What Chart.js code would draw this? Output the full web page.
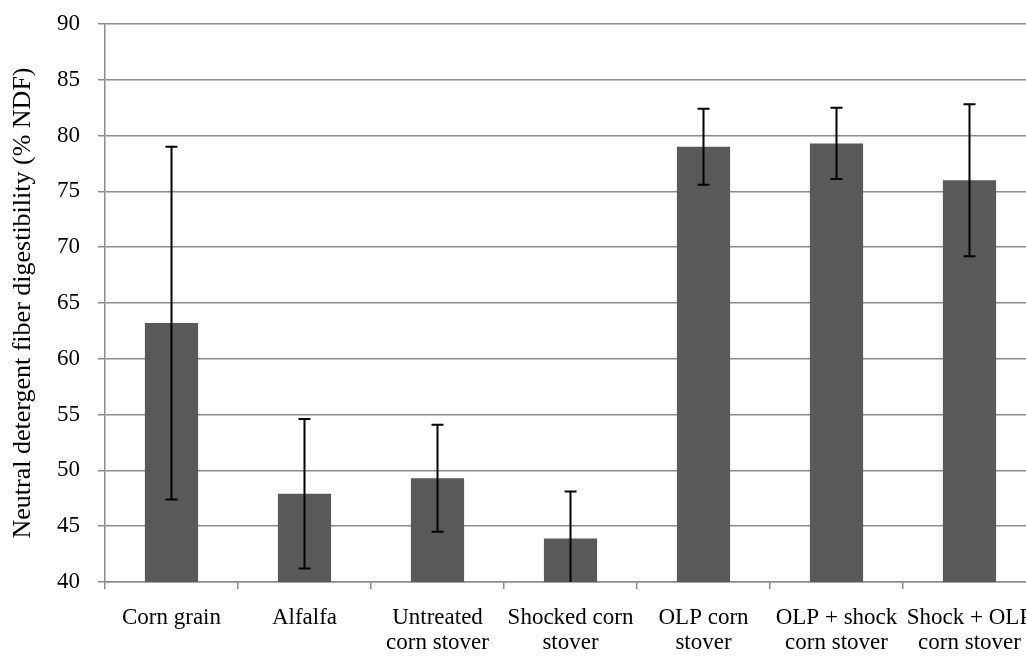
<!DOCTYPE html>
<html>
<head>
<meta charset="utf-8">
<script src="https://cdn.jsdelivr.net/npm/chart.js@4.4.1/dist/chart.umd.min.js"></script>
<style>
  html, body { margin: 0; padding: 0; background: #fff; overflow: hidden; }
  #wrap { width: 1100px; height: 658px; }
</style>
</head>
<body>
<div id="wrap"><canvas id="ndfChart" width="1100" height="658"></canvas></div>
<script>
// NDF digestibility per feed, mean and error bar half-width
const categories = [
  'Corn grain',
  'Alfalfa',
  ['Untreated', 'corn stover'],
  ['Shocked corn', 'stover'],
  ['OLP corn', 'stover'],
  ['OLP + shock', 'corn stover'],
  ['Shock + OLP', 'corn stover']
];
const ndfMeans = [63.2, 47.9, 49.3, 43.9, 79.0, 79.3, 76.0];
const ndfErrors = [15.8, 6.7, 4.8, 4.2, 3.4, 3.2, 6.8];

const axisGray = '#8c8c8c';
const serif = '"Liberation Serif", "Times New Roman", serif';

// error bars drawn on top of the bars, using the y scale
const errorBars = {
  id: 'errorBars',
  afterDatasetsDraw(chart) {
    const { ctx, chartArea, scales } = chart;
    const meta = chart.getDatasetMeta(0);
    ctx.save();
    ctx.beginPath();
    ctx.rect(chartArea.left, chartArea.top, chartArea.right - chartArea.left, chartArea.bottom - chartArea.top);
    ctx.clip();
    ctx.strokeStyle = '#000';
    ctx.lineWidth = 2;
    meta.data.forEach((bar, i) => {
      const x = bar.x;
      const yTop = scales.y.getPixelForValue(ndfMeans[i] + ndfErrors[i]);
      const yBot = scales.y.getPixelForValue(ndfMeans[i] - ndfErrors[i]);
      ctx.beginPath();
      ctx.moveTo(x, yTop);
      ctx.lineTo(x, yBot);
      ctx.moveTo(x - 6, yTop);
      ctx.lineTo(x + 6, yTop);
      ctx.moveTo(x - 6, yBot);
      ctx.lineTo(x + 6, yBot);
      ctx.stroke();
    });
    ctx.restore();
  }
};

new Chart(document.getElementById('ndfChart'), {
  type: 'bar',
  data: {
    labels: categories,
    datasets: [{
      data: ndfMeans,
      backgroundColor: '#595959',
      borderWidth: 0,
      barPercentage: 0.4,
      categoryPercentage: 1.0
    }]
  },
  options: {
    responsive: false,
    animation: false,
    layout: { padding: { top: 24, right: 64, left: 0, bottom: 0 } },
    plugins: {
      legend: { display: false },
      tooltip: { enabled: false }
    },
    scales: {
      x: {
        grid: {
          offset: true,
          drawOnChartArea: false,
          color: axisGray,
          lineWidth: 1.5,
          tickLength: 7
        },
        border: { color: axisGray, width: 1.5 },
        ticks: {
          color: '#000',
          font: { family: serif, size: 23, lineHeight: 1.1 },
          padding: 16,
          maxRotation: 0,
          minRotation: 0,
          autoSkip: false
        },
        afterFit(scale) { scale.height = 76; scale.paddingLeft = 0; scale.paddingRight = 0; }
      },
      y: {
        min: 40,
        max: 90,
        grid: {
          color: axisGray,
          lineWidth: 1.5,
          tickLength: 7
        },
        border: { color: axisGray, width: 1.5 },
        ticks: {
          stepSize: 5,
          color: '#000',
          font: { family: serif, size: 23 },
          padding: 18
        },
        title: {
          display: true,
          text: 'Neutral detergent fiber digestibility (% NDF)',
          color: '#000',
          font: { family: serif, size: 26 },
          padding: { top: 8, bottom: 0 }
        },
        afterFit(scale) { scale.width = 105; scale.paddingTop = 0; scale.paddingBottom = 0; }
      }
    }
  },
  plugins: [errorBars]
});
</script>
</body>
</html>
